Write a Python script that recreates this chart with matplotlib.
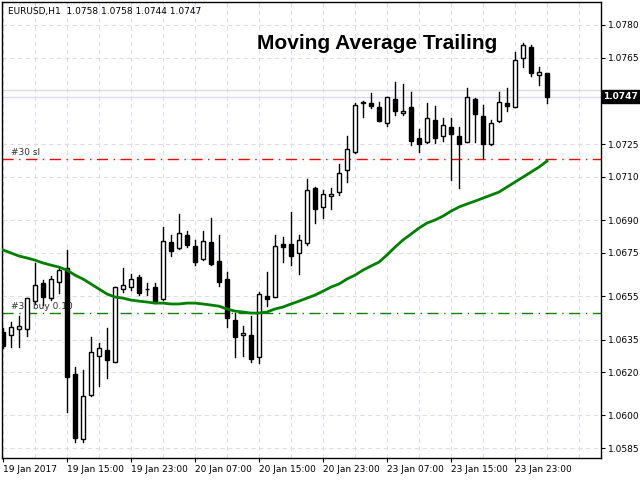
import matplotlib
matplotlib.use("Agg")
import matplotlib.pyplot as plt
from matplotlib.patches import Rectangle

opens = [1.06384,1.06371,1.06398,1.06398,1.06527,1.06610,1.06541,1.06615,1.06680,1.06191,
         1.05891,1.06094,1.06274,1.06301,1.06246,1.06583,1.06592,1.06638,1.06583,1.06592,
         1.06537,1.06799,1.06772,1.06832,1.06781,1.06721,1.06799,1.06712,1.06629,1.06440,
         1.06371,1.06371,1.06270,1.06550,1.06546,1.06790,1.06790,1.06749,1.06795,1.07048,
         1.06961,1.07011,1.07030,1.07131,1.07214,1.07440,1.07440,1.07422,1.07348,1.07459,
         1.07394,1.07422,1.07279,1.07260,1.07362,1.07288,1.07330,1.07288,1.07260,1.07459,
         1.07380,1.07251,1.07357,1.07440,1.07422,1.07648,1.07698,1.07569,1.0758]
highs = [1.06403,1.06431,1.06458,1.06541,1.06703,1.06624,1.06643,1.06680,1.06763,1.06223,
         1.06209,1.06361,1.06334,1.06403,1.06592,1.06680,1.06652,1.06648,1.06610,1.06610,
         1.06869,1.06832,1.06929,1.06850,1.06809,1.06850,1.06910,1.06832,1.06661,1.06472,
         1.06412,1.06458,1.06569,1.06661,1.06832,1.06822,1.06938,1.06832,1.07090,1.07055,
         1.07039,1.07048,1.07159,1.07288,1.07440,1.07450,1.07486,1.07445,1.07468,1.07537,
         1.07528,1.07491,1.07320,1.07440,1.07426,1.07371,1.07371,1.07330,1.07509,1.07465,
         1.07431,1.07362,1.07491,1.07509,1.07675,1.07717,1.07708,1.07606,1.0758]
lows = [1.06311,1.06315,1.06315,1.06366,1.06514,1.06509,1.06532,1.06564,1.06016,1.05877,
        1.05877,1.06089,1.06136,1.06172,1.06246,1.06569,1.06578,1.06555,1.06555,1.06518,
        1.06532,1.06735,1.06768,1.06776,1.06693,1.06716,1.06693,1.06597,1.06408,1.06269,
        1.06274,1.06246,1.06242,1.06504,1.06546,1.06707,1.06693,1.06652,1.06786,1.06887,
        1.06910,1.06952,1.07016,1.07076,1.07210,1.07376,1.07417,1.07357,1.07334,1.07385,
        1.07385,1.07247,1.07214,1.07256,1.07256,1.07265,1.07085,1.07048,1.07260,1.07260,
        1.07187,1.07247,1.07353,1.07403,1.07422,1.07606,1.07565,1.07523,1.0744]
closes = [1.06320,1.06408,1.06412,1.06541,1.06601,1.06546,1.06629,1.06671,1.06177,1.05896,
          1.06089,1.06292,1.06311,1.06255,1.06592,1.06601,1.06629,1.06564,1.06582,1.06527,
          1.06804,1.06758,1.06841,1.06786,1.06707,1.06804,1.06698,1.06615,1.06449,1.06361,
          1.06380,1.06260,1.06560,1.06537,1.06781,1.06776,1.06735,1.06809,1.07039,1.06952,
          1.07021,1.07021,1.07117,1.07228,1.07431,1.07445,1.07426,1.07357,1.07468,1.07403,
          1.07403,1.07265,1.07251,1.07371,1.07279,1.07339,1.07297,1.07251,1.07468,1.07390,
          1.07251,1.07348,1.07445,1.07426,1.07638,1.07708,1.07579,1.07583,1.0747]
ma = [1.06763,1.06749,1.06735,1.06726,1.06716,1.06703,1.06693,1.06684,1.06670,1.06647,
      1.06629,1.06606,1.06583,1.06560,1.06546,1.06541,1.06532,1.06527,1.06523,1.06518,
      1.06518,1.06514,1.06514,1.06518,1.06518,1.06514,1.06509,1.06504,1.06491,1.06481,
      1.06477,1.06472,1.06472,1.06477,1.06491,1.06500,1.06514,1.06527,1.06541,1.06555,
      1.06573,1.06592,1.06606,1.06629,1.06647,1.06670,1.06689,1.06707,1.06740,1.06776,
      1.06809,1.06836,1.06864,1.06887,1.06901,1.06919,1.06942,1.06961,1.06975,1.06988,
      1.07002,1.07016,1.07030,1.07053,1.07076,1.07099,1.07122,1.07145,1.07173]
date_labels = ["19 Jan 2017", "19 Jan 15:00", "19 Jan 23:00", "20 Jan 07:00", "20 Jan 15:00",
               "20 Jan 23:00", "23 Jan 07:00", "23 Jan 15:00", "23 Jan 23:00"]
price_ticks = [1.0780, 1.0765, 1.0725, 1.0710, 1.0690, 1.0675, 1.0655, 1.0635, 1.0620, 1.0600, 1.0585]
sl_level = 1.07182
buy_level = 1.06472
bid_level = 1.0747
ask_level = 1.0750

fig = plt.figure(figsize=(6.4, 4.8), dpi=100)
ax = fig.add_axes([2/640, 22/480, 599/640, 456/480])
ax.set_xlim(-0.125, 74.75)
ax.set_ylim(1.05804, 1.07906)

grid_c = "#e0dcf0"
for k in range(0, 75, 4):
    ax.axvline(k, color=grid_c, lw=0.8, ls=(0, (4, 3)), zorder=0)
for p in price_ticks:
    ax.axhline(p, color=grid_c, lw=0.8, ls=(0, (4, 3)), zorder=0)
for p in (bid_level, ask_level):
    ax.axhline(p, color="#dcd8f0", lw=1.0, zorder=1)

for i, (o, h, l, c) in enumerate(zip(opens, highs, lows, closes)):
    ax.plot([i, i], [l, h], color="black", lw=1.0, zorder=3)
    lo, hi = min(o, c), max(o, c)
    ax.add_patch(Rectangle((i - 0.3, lo), 0.6, max(hi - lo, 0.00002),
                           facecolor="white" if c >= o else "black",
                           edgecolor="black", lw=1.0, zorder=4))

ax.plot(range(len(ma)), ma, color="#008000", lw=2.0, zorder=5)
ax.axhline(sl_level, color="#ff0000", lw=1.0, ls=(0, (8, 4, 1, 4)), zorder=2)
ax.axhline(buy_level, color="#008000", lw=1.0, ls=(0, (8, 4, 1, 4)), zorder=2)

ax.text(1, sl_level + 0.0001, "#30 sl", fontsize=6.5, color="#333333", va="bottom", family="DejaVu Sans")
ax.text(1, buy_level + 0.0001, "#30 buy 0.10", fontsize=6.5, color="#333333", va="bottom", family="DejaVu Sans")
ax.text(0.627, 0.91, "Moving Average Trailing", transform=ax.transAxes, fontsize=15,
        fontweight="bold", ha="center", va="center", family="Liberation Sans")
ax.text(0.01, 0.99, "EURUSD,H1  1.0758 1.0758 1.0744 1.0747", transform=ax.transAxes,
        fontsize=6.5, ha="left", va="top", family="DejaVu Sans")

ax.yaxis.tick_right()
ax.set_yticks(price_ticks)
ax.set_yticklabels([f"{p:.4f}" for p in price_ticks], fontsize=6.5)
ax.set_xticks([8 * k for k in range(len(date_labels))])
ax.set_xticklabels(date_labels, fontsize=6.5, ha="left")
ax.tick_params(length=3, width=0.8, pad=2)
ax.text(1.004, bid_level, f"{bid_level:.4f}", transform=ax.get_yaxis_transform(),
        fontsize=6.5, color="white", va="center", ha="left", fontweight="bold",
        bbox=dict(facecolor="black", edgecolor="black", pad=1.2), clip_on=False)
for s in ax.spines.values():
    s.set_linewidth(1.0)

fig.savefig("out.png", dpi=100)
